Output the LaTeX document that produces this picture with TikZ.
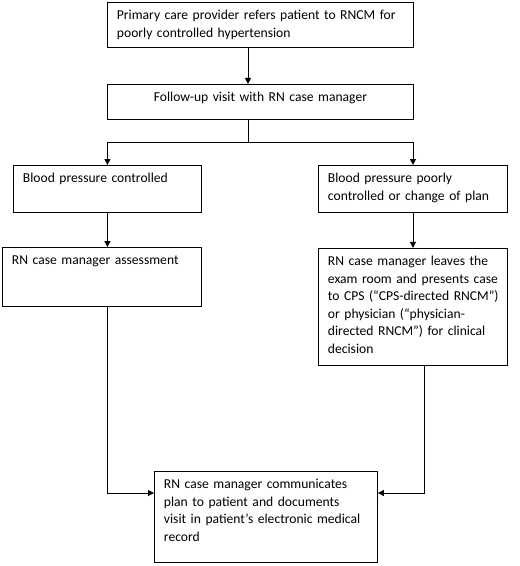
\documentclass[tikz,border=0pt]{standalone}
\usepackage{fontspec}
\setmainfont{Carlito}
\usepackage{tikz}
\usetikzlibrary{ arrows.meta, positioning }
\tikzset{
>={Triangle[length=6pt,width=6pt]}, % filled arrow heads
node distance=36pt, % vertical gap between stacked boxes
every node/.style={inner sep=1pt},
flow/.style={line width=0.9pt},
% box = outer width minus padding, depth below the first baseline
box/.style 2 args={draw, line width=0.9pt, rectangle, anchor=north west,
  align=left, inner xsep=9.5pt, inner ysep=7pt,
  text width=#1, text height=10.5pt, text depth=#2,
  font=\fontsize{13.6}{17.5}\selectfont},
}

\begin{document}
\begin{tikzpicture}[x=1pt, y=-1pt]
  \useasboundingbox (0,0) rectangle (520,566);

  \node[box={287pt}{20.5pt}] (refer) at (107,2)
    {Primary care provider refers patient to RNCM for\\poorly controlled hypertension};
  \node[box={287pt}{10.5pt}, align=center, anchor=north, below=36pt of refer.south] (visit)
    {Follow-up visit with RN case manager};
  \node[box={169pt}{22.5pt}] (ctrl) at (13,165) {Blood pressure controlled};
  \node[box={170pt}{22.5pt}] (poor) at (318,165)
    {Blood pressure poorly\\controlled or change of plan};
  \node[box={180pt}{34.5pt}] (assess) at (2,247) {RN case manager assessment};
  \node[box={170pt}{92.5pt}, anchor=north, below=35pt of poor.south] (present)
    {RN case manager leaves the\\exam room and presents case\\\mbox{to CPS (“CPS-directed RNCM”)}\\or physician (“physician-\\directed RNCM”) for clinical\\decision};
  \node[box={204pt}{66.5pt}] (plan) at (154,471)
    {RN case manager communicates\\plan to patient and documents\\visit in patient’s electronic medical\\record};

  \coordinate (trunk) at (248,0);
  \coordinate (gin) at ([yshift=-22pt]plan.north west);

  \draw[flow,->] (refer.south -| trunk) -- (visit.north -| trunk);
  \draw[flow] (visit.south -| trunk) -- ++(0,-23pt) coordinate (split);
  \draw[flow,->] (split) -| (ctrl.north);
  \draw[flow,->] (split) -| (poor.north);
  \draw[flow,->] (ctrl.south) -- (ctrl.south |- assess.north);
  \draw[flow,->] (poor.south) -- (present.north);
  \draw[flow,->] (assess.south -| ctrl.south) |- (gin);
  \draw[flow,->] ([xshift=11.5pt]present.south) |- (gin -| plan.east);
\end{tikzpicture}
\end{document}
